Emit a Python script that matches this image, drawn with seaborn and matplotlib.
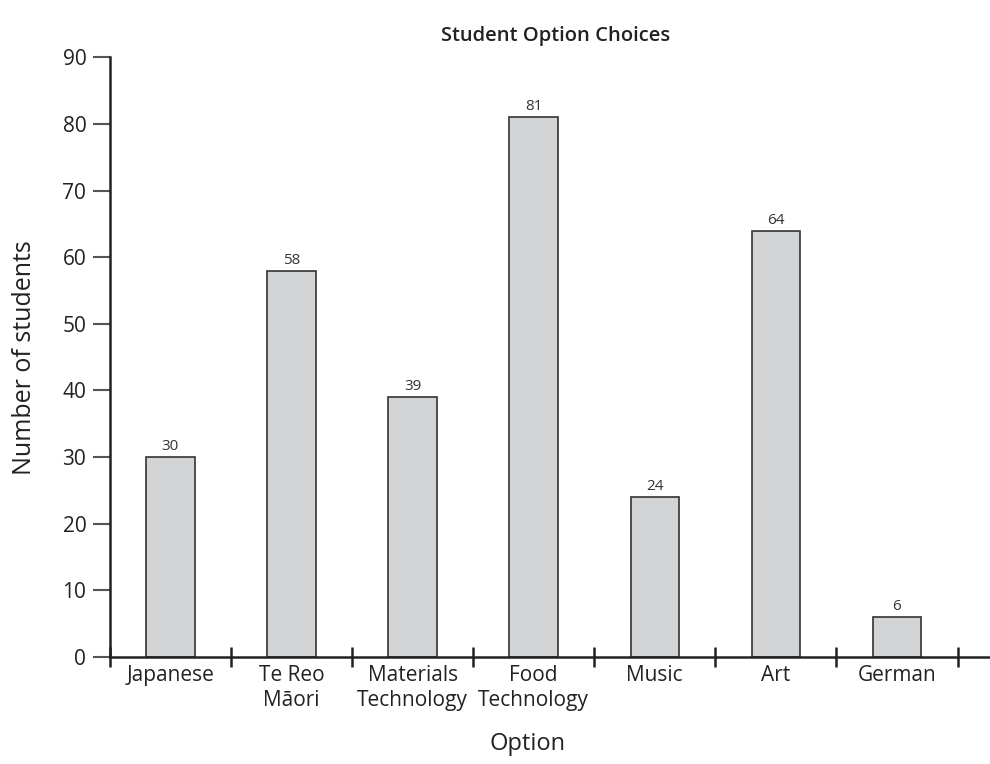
import numpy as np
import pandas as pd
import matplotlib
matplotlib.use("Agg")
import matplotlib.pyplot as plt
import seaborn as sns

options = ["Japanese", "Te Reo\nMāori", "Materials\nTechnology", "Food\nTechnology",
           "Music", "Art", "German"]
students = [30, 58, 39, 81, 24, 64, 6]

df = pd.DataFrame({"Option": options, "Students": students})

sns.set_style("white")
plt.rcParams['font.family'] = ['Open Sans', 'DejaVu Sans']

fig = plt.figure(figsize=(9.9, 7.64), dpi=100)
ax = fig.add_axes([0.111, 0.140, 0.888, 0.785])

sns.barplot(data=df, x="Option", y="Students", color="#d3d4d6", saturation=1,
            width=0.4, edgecolor="#333333", linewidth=1.2, ax=ax)

ax.bar_label(ax.containers[0], padding=2, fontsize=11, color="#333333")

ax.set_ylim(0, 90)
ax.set_xlim(-0.5, 6.76)
ax.set_yticks(range(0, 91, 10))

ax.set_xticks(np.arange(-0.5, 7, 1), minor=True)
ax.tick_params(axis="x", which="major", length=0, labelsize=15, colors="#222222", pad=6)
ax.tick_params(axis="x", which="minor", direction="inout", length=14, width=1.8,
               color="#222222", bottom=True)
ax.tick_params(axis="y", which="major", direction="out", length=12, width=1.5,
               color="#555555", labelsize=15, labelcolor="#222222", pad=5, left=True)

for s in ["top", "right"]:
    ax.spines[s].set_visible(False)
for s in ["left", "bottom"]:
    ax.spines[s].set_color("#222222")
    ax.spines[s].set_linewidth(1.8)

ax.set_title("Student Option Choices", fontsize=14.5, fontweight="semibold",
             color="#222222", pad=12, x=0.507)
ax.set_xlabel("Option", fontsize=17, fontweight="medium", color="#222222")
ax.xaxis.set_label_coords(0.475, -0.125)
ax.set_ylabel("Number of students", fontsize=18, fontweight="medium", color="#222222")
ax.yaxis.set_label_coords(-0.083, 0.5)

fig.savefig("out.png", dpi=100)
